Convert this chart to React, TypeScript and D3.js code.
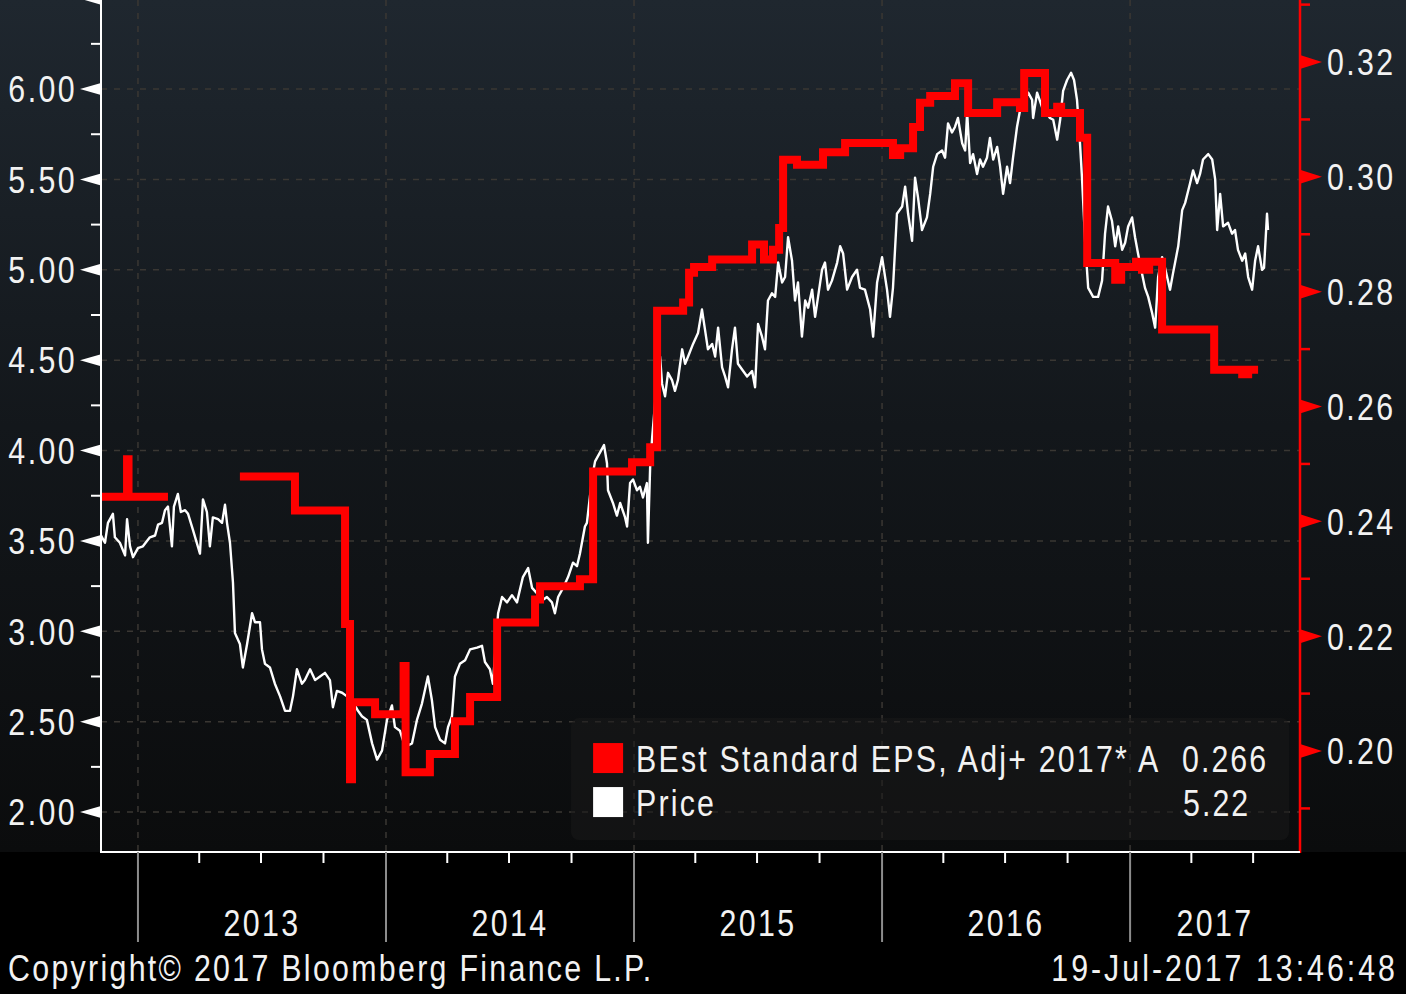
import React from "react";
import * as d3 from "d3";

// ---------- DATA (time in decimal years) ----------
// Price (left axis)
const price2013: [number, number][] = [
  [2012.847, 3.54], [2012.867, 3.49], [2012.879, 3.6], [2012.899, 3.65], [2012.907, 3.52], [2012.927, 3.49],
  [2012.948, 3.42], [2012.956, 3.62], [2012.968, 3.47], [2012.98, 3.41], [2013.0, 3.46], [2013.02, 3.47],
  [2013.048, 3.52], [2013.069, 3.53], [2013.081, 3.59], [2013.097, 3.6], [2013.109, 3.67], [2013.121, 3.69],
  [2013.137, 3.47], [2013.145, 3.69], [2013.161, 3.76], [2013.173, 3.66], [2013.19, 3.67], [2013.202, 3.65],
  [2013.222, 3.56], [2013.25, 3.43], [2013.262, 3.73], [2013.278, 3.66], [2013.29, 3.47], [2013.302, 3.63],
  [2013.323, 3.62], [2013.339, 3.6], [2013.351, 3.7], [2013.359, 3.6], [2013.371, 3.49], [2013.383, 3.27],
  [2013.391, 2.99], [2013.411, 2.93], [2013.423, 2.8], [2013.44, 2.93], [2013.46, 3.1], [2013.472, 3.05],
  [2013.492, 3.05], [2013.5, 2.9], [2013.512, 2.82], [2013.532, 2.8], [2013.552, 2.71], [2013.573, 2.64],
  [2013.593, 2.56], [2013.613, 2.56], [2013.625, 2.64], [2013.641, 2.79], [2013.661, 2.71], [2013.673, 2.73],
  [2013.694, 2.79], [2013.714, 2.73], [2013.734, 2.75], [2013.754, 2.77], [2013.774, 2.73], [2013.786, 2.58],
  [2013.802, 2.67], [2013.823, 2.66], [2013.843, 2.64], [2013.863, 2.62], [2013.887, 2.56], [2013.903, 2.53],
  [2013.923, 2.51], [2013.944, 2.38], [2013.964, 2.29], [2013.984, 2.34],
];
const price2014: [number, number][] = [
  [2014.004, 2.51], [2014.024, 2.59], [2014.036, 2.47], [2014.056, 2.45], [2014.077, 2.36], [2014.105, 2.38],
  [2014.125, 2.51], [2014.145, 2.6], [2014.169, 2.75], [2014.185, 2.62], [2014.198, 2.47], [2014.218, 2.4],
  [2014.238, 2.38], [2014.25, 2.47], [2014.266, 2.53], [2014.278, 2.75], [2014.298, 2.82], [2014.319, 2.84],
  [2014.339, 2.9], [2014.367, 2.91], [2014.387, 2.92], [2014.399, 2.83], [2014.419, 2.79], [2014.431, 2.71],
  [2014.452, 3.1], [2014.468, 3.19], [2014.488, 3.16], [2014.508, 3.2], [2014.528, 3.16], [2014.552, 3.3],
  [2014.573, 3.35], [2014.589, 3.24], [2014.609, 3.21], [2014.629, 3.17], [2014.649, 3.19], [2014.669, 3.16],
  [2014.681, 3.1], [2014.694, 3.19], [2014.714, 3.24], [2014.734, 3.3], [2014.754, 3.38], [2014.77, 3.36],
  [2014.782, 3.43], [2014.802, 3.58], [2014.81, 3.6], [2014.831, 3.85], [2014.843, 3.94], [2014.863, 3.99],
  [2014.879, 4.03], [2014.891, 3.93], [2014.895, 3.78], [2014.915, 3.71], [2014.931, 3.64], [2014.944, 3.71],
  [2014.964, 3.63], [2014.972, 3.58], [2014.984, 3.82], [2014.996, 3.84],
];
const price2015: [number, number][] = [
  [2015.012, 3.78], [2015.024, 3.8], [2015.036, 3.74], [2015.052, 3.82], [2015.056, 3.49], [2015.065, 3.91],
  [2015.073, 4.07], [2015.089, 4.33], [2015.105, 4.52], [2015.113, 4.37], [2015.125, 4.3], [2015.137, 4.43],
  [2015.153, 4.39], [2015.165, 4.33], [2015.177, 4.39], [2015.194, 4.56], [2015.206, 4.48], [2015.218, 4.52],
  [2015.238, 4.59], [2015.258, 4.65], [2015.274, 4.78], [2015.286, 4.67], [2015.298, 4.56], [2015.315, 4.59],
  [2015.327, 4.52], [2015.339, 4.68], [2015.355, 4.46], [2015.367, 4.41], [2015.379, 4.35], [2015.395, 4.56],
  [2015.407, 4.68], [2015.419, 4.48], [2015.44, 4.44], [2015.456, 4.41], [2015.476, 4.44], [2015.488, 4.35],
  [2015.5, 4.7], [2015.516, 4.63], [2015.528, 4.56], [2015.54, 4.83], [2015.556, 4.87], [2015.569, 4.85],
  [2015.581, 5.04], [2015.597, 4.93], [2015.609, 4.96], [2015.621, 5.18], [2015.637, 5.05], [2015.649, 4.83],
  [2015.661, 4.93], [2015.677, 4.63], [2015.69, 4.83], [2015.702, 4.79], [2015.718, 4.89], [2015.73, 4.74],
  [2015.742, 4.85], [2015.758, 5.0], [2015.77, 5.04], [2015.782, 4.89], [2015.798, 4.94], [2015.819, 5.04],
  [2015.831, 5.13], [2015.843, 5.09], [2015.859, 4.89], [2015.879, 4.96], [2015.899, 5.0], [2015.911, 4.9],
  [2015.931, 4.89], [2015.952, 4.78], [2015.964, 4.63], [2015.98, 4.93],
];
const price2016: [number, number][] = [
  [2016.0, 5.07], [2016.02, 4.89], [2016.032, 4.74], [2016.044, 4.9], [2016.06, 5.31], [2016.081, 5.35],
  [2016.093, 5.46], [2016.105, 5.31], [2016.121, 5.16], [2016.133, 5.51], [2016.145, 5.4], [2016.161, 5.22],
  [2016.181, 5.29], [2016.194, 5.42], [2016.206, 5.57], [2016.222, 5.64], [2016.242, 5.66], [2016.254, 5.62],
  [2016.266, 5.81], [2016.282, 5.76], [2016.294, 5.79], [2016.306, 5.84], [2016.323, 5.7], [2016.335, 5.66],
  [2016.343, 5.87], [2016.355, 5.59], [2016.367, 5.64], [2016.383, 5.53], [2016.395, 5.61], [2016.407, 5.57],
  [2016.423, 5.62], [2016.435, 5.73], [2016.448, 5.61], [2016.464, 5.68], [2016.476, 5.57], [2016.488, 5.42],
  [2016.504, 5.57], [2016.516, 5.48], [2016.528, 5.62], [2016.544, 5.79], [2016.556, 5.88], [2016.569, 5.92],
  [2016.589, 5.98], [2016.605, 5.94], [2016.609, 5.84], [2016.625, 5.98], [2016.645, 5.9], [2016.657, 5.88],
  [2016.677, 5.84], [2016.69, 5.83], [2016.706, 5.72], [2016.718, 5.83], [2016.73, 5.99], [2016.746, 6.05],
  [2016.762, 6.09], [2016.774, 6.05], [2016.786, 5.94], [2016.798, 5.7], [2016.806, 5.51], [2016.819, 5.15],
  [2016.831, 4.9], [2016.851, 4.85], [2016.871, 4.85], [2016.887, 4.94], [2016.899, 5.2], [2016.911, 5.35],
  [2016.927, 5.27], [2016.94, 5.13], [2016.952, 5.24], [2016.968, 5.11], [2016.98, 5.15], [2016.992, 5.24],
];
const price2017: [number, number][] = [
  [2017.008, 5.29], [2017.02, 5.18], [2017.032, 5.09], [2017.048, 4.98], [2017.06, 4.9], [2017.073, 4.85],
  [2017.089, 4.76], [2017.101, 4.68], [2017.113, 4.96], [2017.129, 5.07], [2017.141, 5.01], [2017.161, 4.89],
  [2017.173, 4.98], [2017.194, 5.13], [2017.21, 5.33], [2017.222, 5.37], [2017.242, 5.48], [2017.254, 5.55],
  [2017.27, 5.48], [2017.282, 5.53], [2017.294, 5.61], [2017.315, 5.64], [2017.331, 5.61], [2017.343, 5.5],
  [2017.351, 5.22], [2017.363, 5.42], [2017.375, 5.24], [2017.395, 5.26], [2017.411, 5.2], [2017.423, 5.22],
  [2017.435, 5.11], [2017.452, 5.05], [2017.464, 5.09], [2017.476, 4.96], [2017.492, 4.89], [2017.504, 5.05],
  [2017.516, 5.13], [2017.532, 5.0], [2017.54, 5.01], [2017.552, 5.31], [2017.556, 5.22],
];

// BEst Standard EPS, Adj+ 2017 (right axis), step series; null = no data
const epsEarly: [number, number | null][] = [
  [2012.851, 0.2443], [2012.956, 0.2508], [2012.962, 0.2443], [2013.121, 0.2443], [2013.25, null],
];
const epsMain: [number, number][] = [
  [2013.411, 0.2478], [2013.633, 0.2419], [2013.835, 0.2221], [2013.855, 0.1951], [2013.863, 0.2085],
  [2013.956, 0.2064], [2014.071, 0.2148], [2014.079, 0.1963], [2014.177, 0.1995], [2014.278, 0.2052],
  [2014.339, 0.2094], [2014.448, 0.2224], [2014.601, 0.2264], [2014.621, 0.2287], [2014.782, 0.2299],
  [2014.835, 0.2487], [2014.992, 0.2503], [2015.065, 0.2529], [2015.093, 0.2767], [2015.198, 0.2781],
  [2015.222, 0.2833], [2015.242, 0.2843], [2015.315, 0.2856], [2015.476, 0.2882], [2015.524, 0.2856],
  [2015.56, 0.2873], [2015.585, 0.2911], [2015.601, 0.303], [2015.657, 0.3021], [2015.762, 0.3043],
  [2015.851, 0.3059], [2016.044, 0.3038], [2016.073, 0.305], [2016.125, 0.3087], [2016.153, 0.3129],
  [2016.194, 0.3141], [2016.294, 0.3163], [2016.347, 0.3111], [2016.464, 0.313], [2016.556, 0.312],
  [2016.573, 0.3181], [2016.657, 0.3111], [2016.706, 0.3122], [2016.722, 0.3111], [2016.798, 0.3068],
  [2016.827, 0.285], [2016.94, 0.2821], [2016.964, 0.2843], [2017.024, 0.2852], [2017.048, 0.2838],
  [2017.077, 0.2852], [2017.129, 0.2734], [2017.339, 0.2664], [2017.452, 0.2656], [2017.476, 0.2664],
  [2017.516, 0.2664],
];

const years = [2013, 2014, 2015, 2016, 2017];
const yearLabels = ["2013", "2014", "2015", "2016", "2017"];
const quarterOffsets = [0.247, 0.496, 0.748];
const leftTickValues = d3.range(8, 27).map((i) => i * 0.25); // 2.00 .. 6.50
const rightTickValues = d3.range(19, 34).map((i) => i / 100); // 0.19 .. 0.33
const legendLabels = ["BEst Standard EPS, Adj+ 2017* A", "Price"];
const legendValues = ["0.266", "5.22"];
const copyrightText = "Copyright\u00a9 2017 Bloomberg Finance L.P.";
const stampText = "19-Jul-2017 13:46:48";

// ---------- LAYOUT ----------
const W = 1406;
const H = 994;
const L = 101;
const R = 1300;
const T = 3;
const B = 852;
const FONT = "'Liberation Sans', Arial, sans-serif";
const FS = 37;
const SX = 0.82;
const TXT = "#f2f2f2";
const RED = "#ff0000";
const GRID = "#3a3733";

function Label(props: { x: number; y: number; anchor?: string; dy?: string; ls?: number; children: React.ReactNode }) {
  const { x, y, anchor, dy, ls, children } = props;
  return (
    <text
      transform={`translate(${x},${y}) scale(${SX},1)`}
      dy={dy}
      textAnchor={anchor || "start"}
      fill={TXT}
      fontSize={FS}
      letterSpacing={(ls ?? 2.4) / SX}
      fontFamily={FONT}
    >
      {children}
    </text>
  );
}

export default function App() {
  const x = d3.scaleLinear().domain([2012.851, 2017.685]).range([L, R]);
  const yL = d3.scaleLinear().domain([1.779, 6.476]).range([B, T]);
  const yR = d3.scaleLinear().domain([0.18241, 0.33028]).range([B, T]);

  const priceData = [...price2013, ...price2014, ...price2015, ...price2016, ...price2017];
  const priceLine = d3
    .line<[number, number]>()
    .x((d) => x(d[0]))
    .y((d) => yL(d[1]));

  const epsLine = d3
    .line<[number, number | null]>()
    .defined((d) => d[1] !== null)
    .x((d) => x(d[0]))
    .y((d) => yR(d[1] as number))
    .curve(d3.curveStepAfter);

  const domainEnd = x.domain()[1];
  const quarterTicks: number[] = [];
  years.forEach((yr) => quarterOffsets.forEach((q) => { if (yr + q < domainEnd) quarterTicks.push(yr + q); }));

  const isMajorL = (v: number) => Math.abs(v * 2 - Math.round(v * 2)) < 1e-6;
  const isMajorR = (v: number) => Math.round(v * 100) % 2 === 0;

  const legX0 = x(2014.746);
  const legX1 = x(2017.641);
  const legY0 = yL(2.52);

  return (
    <svg
      width={W}
      height={H}
      style={{ position: "absolute", left: 0, top: 0, display: "block" }}
      fontFamily={FONT}
    >
      <defs>
        <linearGradient id="bg" x1="0" y1="0" x2="0" y2="1">
          <stop offset="0" stopColor="#1f272f" />
          <stop offset="0.5" stopColor="#13171b" />
          <stop offset="1" stopColor="#0b0c0d" />
        </linearGradient>
        <clipPath id="plot">
          <rect x={L} y={0} width={R - L} height={B} />
        </clipPath>
      </defs>
      <rect x={0} y={0} width={W} height={H} fill="#000" />
      <rect x={0} y={0} width={W} height={B} fill="url(#bg)" />

      {/* grid */}
      {leftTickValues.filter((v) => isMajorL(v) && v <= 6.01).map((v) => (
        <line key={"gh" + v} x1={L} x2={R} y1={yL(v)} y2={yL(v)} stroke={GRID} strokeWidth={1.5} strokeDasharray="6,7" />
      ))}
      {years.map((yr) => (
        <line key={"gv" + yr} x1={x(yr)} x2={x(yr)} y1={0} y2={B} stroke={GRID} strokeWidth={1.5} strokeDasharray="6,7" />
      ))}

      {/* legend box */}
      <rect x={legX0} y={legY0} width={legX1 - legX0} height={122} rx={8} fill="#1a1a1a" fillOpacity={0.55} />

      {/* series */}
      <g clipPath="url(#plot)">
        <path d={priceLine(priceData) || ""} fill="none" stroke="#ffffff" strokeWidth={2.4} strokeLinejoin="round" />
        <path d={epsLine(epsEarly) || ""} fill="none" stroke={RED} strokeWidth={8} strokeLinejoin="miter" />
        <path d={epsLine(epsMain) || ""} fill="none" stroke={RED} strokeWidth={8} strokeLinejoin="miter" />
      </g>

      {/* legend content */}
      {legendLabels.map((lab, i) => {
        const top = legY0 + 25 + i * 44;
        return (
          <g key={lab}>
            <rect x={x(2014.835)} y={top} width={30} height={30} fill={i === 0 ? RED : "#ffffff"} />
            <Label x={x(2015.008)} y={top + 29} ls={2.2}>{lab}</Label>
            <Label x={i === 0 ? x(2017.556) : x(2017.484)} y={top + 29} anchor="end" ls={2.0}>
              {legendValues[i]}
            </Label>
          </g>
        );
      })}

      {/* left axis */}
      <line x1={L} x2={L} y1={0} y2={B + 1} stroke="#fff" strokeWidth={2} />
      {leftTickValues.map((v) => {
        const yy = yL(v);
        return isMajorL(v) ? (
          <g key={"lt" + v}>
            <path d={`M${L - 21},${yy}L${L},${yy - 6}L${L},${yy + 6}Z`} fill="#fff" />
            {v <= 6.01 && (
              <Label x={L - 24} y={yy} dy="0.36em" anchor="end">
                {v.toFixed(2)}
              </Label>
            )}
          </g>
        ) : (
          <line key={"lt" + v} x1={L - 10} x2={L} y1={yy} y2={yy} stroke="#fff" strokeWidth={2} />
        );
      })}

      {/* right axis */}
      <line x1={R} x2={R} y1={0} y2={B + 1} stroke={RED} strokeWidth={2.5} />
      {rightTickValues.map((v) => {
        const yy = yR(v);
        return isMajorR(v) ? (
          <g key={"rt" + v}>
            <path d={`M${R + 22},${yy}L${R},${yy - 7}L${R},${yy + 7}Z`} fill={RED} />
            <Label x={R + 27} y={yy} dy="0.36em">
              {v.toFixed(2)}
            </Label>
          </g>
        ) : (
          <line key={"rt" + v} x1={R} x2={R + 10} y1={yy} y2={yy} stroke={RED} strokeWidth={2.5} />
        );
      })}

      {/* bottom axis */}
      <line x1={L - 1} x2={R} y1={B} y2={B} stroke="#fff" strokeWidth={2} />
      {quarterTicks.map((q) => (
        <line key={"q" + q} x1={x(q)} x2={x(q)} y1={B} y2={B + 11} stroke="#fff" strokeWidth={2} />
      ))}
      {years.map((yr, i) => {
        const end = Math.min(yr + 1, domainEnd);
        return (
          <g key={"y" + yr}>
            <line x1={x(yr)} x2={x(yr)} y1={B} y2={942} stroke="#8c8c8c" strokeWidth={2} />
            <Label x={(x(yr) + x(end)) / 2} y={936} anchor="middle">
              {yearLabels[i]}
            </Label>
          </g>
        );
      })}

      {/* footer */}
      <Label x={8} y={981} ls={2.3}>{copyrightText}</Label>
      <Label x={1398} y={981} anchor="end" ls={3}>{stampText}</Label>
    </svg>
  );
}
